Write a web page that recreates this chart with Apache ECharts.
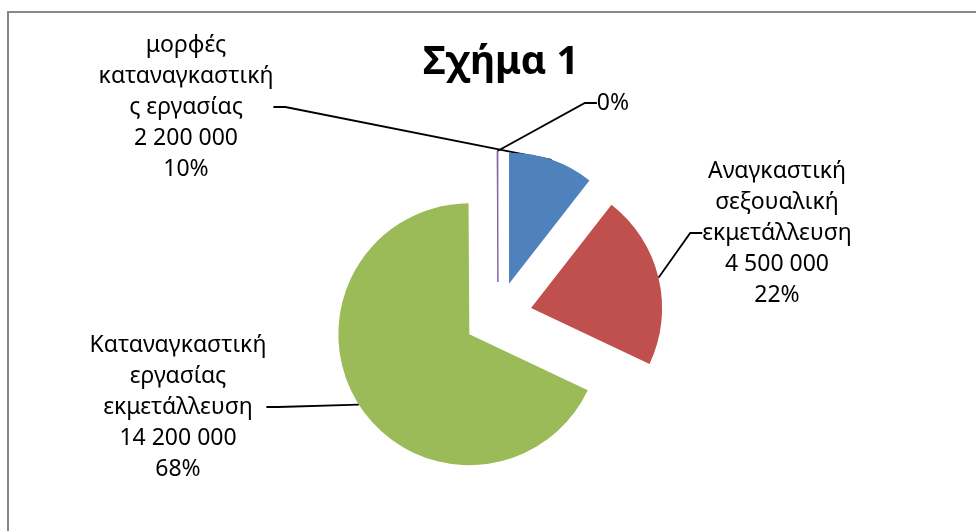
<!DOCTYPE html>
<html>
<head>
<meta charset="utf-8">
<script src="https://cdn.jsdelivr.net/npm/echarts@6/dist/echarts.min.js"></script>
<style>
  html, body { margin: 0; padding: 0; background: #fff; }
  #chart { width: 976px; height: 531px; }
</style>
</head>
<body>
<div id="chart"></div>
<script>
// δεδομένα
const names = [
    'μορφές\nκαταναγκαστική\nς εργασίας',
    'Αναγκαστική\nσεξουαλική\nεκμετάλλευση',
    'Καταναγκαστική\nεργασίας\nεκμετάλλευση',
    ''
];
const values = [2200000, 4500000, 14200000, 20000];
const valueLabels = ['2 200 000', '4 500 000', '14 200 000', ''];
const percentLabels = ['10%', '22%', '68%', '0%'];
const colors = ['#4F81BD', '#C0504D', '#9BBB59', '#8064A2'];

// θέσεις ετικετών (κέντρο κειμένου)
const labelPos = [
    [186, 107],
    [777, 233],
    [178, 407],
    [613, 103]
];

const pieCenter = [498, 316];
const explode = 34;

const chart = echarts.init(document.getElementById('chart'));

// κάθε φέτα σε δική της σειρά ώστε να "απομακρύνεται" από το κέντρο
const total = values.reduce((a, b) => a + b, 0);
let cum = 0;
const series = values.map((v, k) => {
    const mid = (cum + v / 2) / total * Math.PI * 2;
    cum += v;
    return {
        type: 'pie',
        center: [pieCenter[0] + Math.sin(mid) * explode, pieCenter[1] - Math.cos(mid) * explode],
        radius: 131,
        startAngle: 90,
        clockwise: true,
        avoidLabelOverlap: false,
        silent: true,
        emphasis: {disabled: true},
        label: {
            show: true,
            position: 'outside',
            fontFamily: 'Noto Sans',
            fontSize: 23,
            lineHeight: 31,
            color: '#000',
            align: 'center',
            formatter: (p) => {
                const i = p.dataIndex;
                return [names[i], valueLabels[i], percentLabels[i]].filter(s => s !== '').join('\n');
            },
        },
        labelLine: {
            show: true,
            length: 10,
            length2: 12,
            smooth: false,
            lineStyle: {color: '#000', width: 1.8},
        },
        labelLayout: (params) => {
            const pos = labelPos[params.dataIndex];
            return {
                x: pos[0],
                y: pos[1],
                align: 'center',
                verticalAlign: 'middle',
                hideOverlap: false,
            };
        },
        data: values.map((val, i) => ({
            value: val,
            name: names[i],
            label: {show: i === k},
            labelLine: {show: i === k},
            itemStyle: i === k ? {
                color: colors[i],
                borderColor: i === 3 ? colors[i] : 'transparent',
                borderWidth: i === 3 ? 1 : 0,
            } : {color: 'rgba(0,0,0,0)', borderWidth: 0},
        })),
    };
});

const option = {
    animation: false,
    title: {
        text: 'Σχήμα 1',
        left: 496,
        top: 38,
        textAlign: 'center',
        textStyle: {
            fontFamily: 'Noto Sans',
            fontWeight: 'bold',
            fontSize: 39,
            color: '#000',
        },
    },
    graphic: [{
        type: 'rect',
        z: -10,
        shape: {x: 8, y: 12, width: 1100, height: 1000},
        style: {fill: null, stroke: '#878787', lineWidth: 2},
        silent: true,
    }],
    series: series,
};

chart.setOption(option);
</script>
</body>
</html>
